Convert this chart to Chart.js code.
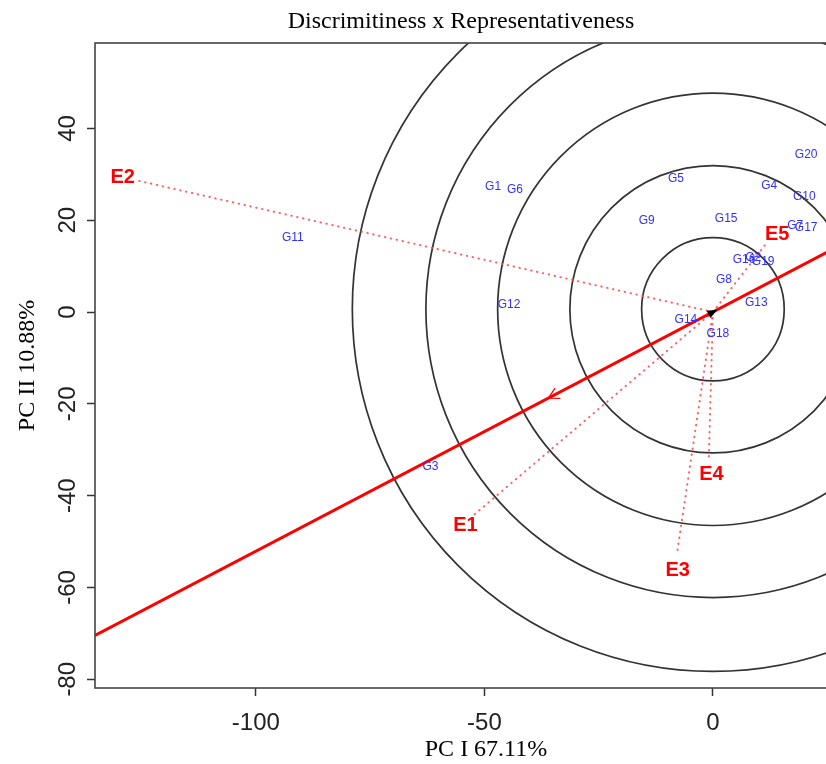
<!DOCTYPE html>
<html lang="en">
<head>
<meta charset="UTF-8">
<title>Discrimitiness x Representativeness</title>
<script src="https://cdn.jsdelivr.net/npm/chart.js"></script>
<style>
  html, body { margin: 0; padding: 0; overflow: hidden; background: #fff; }
</style>
</head>
<body>
<canvas id="myChart" width="880" height="764"></canvas>
<script>
// genotype scores (PC1, PC2)
const genotypes = ['G1', 'G2', 'G3', 'G4', 'G5', 'G6', 'G7', 'G8', 'G9', 'G10',
                   'G11', 'G12', 'G13', 'G14', 'G15', 'G16', 'G17', 'G18', 'G19', 'G20'];
const genoX = [-48.1, 8.8, -61.8, 12.3, -8.1, -43.3, 18.0, 2.4, -14.5, 20.0,
               -91.9, -44.6, 9.5, -5.9, 2.9, 6.8, 20.4, 1.1, 11.0, 20.4];
const genoY = [27.2, 11.8, -33.8, 27.5, 29.0, 26.6, 18.7, 7.0, 19.8, 25.1,
               16.1, 1.5, 2.0, -1.7, 20.3, 11.3, 18.3, -4.8, 10.9, 34.2];

// environment vectors
const environments = ['E1', 'E2', 'E3', 'E4', 'E5'];
const envX = [-52.3, -126.6, -7.9, -0.9, 11.4];
const envY = [-44.2, 28.8, -52.9, -31.8, 14.6];

// average environment axis and concentric circles
const aecSlope = 0.521;
const aecArrowX = -36;
const circleCenter = [0, 0.6];
const circleRadii = [15.6, 31.3, 47.1, 62.8, 78.9];

const xTicks = [-100, -50, 0];
const yTicks = [-80, -60, -40, -20, 0, 20, 40];

const sans = '"Liberation Sans", Arial, sans-serif';
const serif = '"Liberation Serif", "Times New Roman", serif';

const envDatasets = environments.map((e, i) => ({
    type: 'line',
    label: e,
    data: [{ x: 0, y: 0 }, { x: envX[i], y: envY[i] }],
    borderColor: 'rgba(255, 80, 80, 0.9)',
    borderWidth: 2,
    borderDash: [0.5, 5.5],
    borderCapStyle: 'round',
    pointRadius: 0,
    fill: false
}));

const genoDataset = {
    type: 'scatter',
    label: 'genotypes',
    data: genotypes.map((g, i) => ({ x: genoX[i], y: genoY[i] })),
    pointRadius: 0
};

function dirOf(x, y, p0, xs, ys) {
    const dx = xs.getPixelForValue(x) - p0.x;
    const dy = ys.getPixelForValue(y) - p0.y;
    const len = Math.hypot(dx, dy);
    return { x: dx / len, y: dy / len };
}

const biplotPlugin = {
    id: 'biplot',
    beforeDatasetsDraw(chart) {
        const { ctx, chartArea: a, scales: { x, y } } = chart;
        ctx.save();
        ctx.beginPath();
        ctx.rect(a.left, a.top, a.right - a.left, a.bottom - a.top);
        ctx.clip();
        // circles
        const cx = x.getPixelForValue(circleCenter[0]);
        const cy = y.getPixelForValue(circleCenter[1]);
        ctx.strokeStyle = '#333';
        ctx.lineWidth = 1.7;
        circleRadii.forEach(r => {
            const rx = Math.abs(x.getPixelForValue(circleCenter[0] + r) - cx);
            const ry = Math.abs(y.getPixelForValue(circleCenter[1] + r) - cy);
            ctx.beginPath();
            ctx.ellipse(cx, cy, rx, ry, 0, 0, Math.PI * 2);
            ctx.stroke();
        });
        ctx.restore();
    },
    afterDatasetsDraw(chart) {
        const { ctx, chartArea: a, scales: { x, y } } = chart;
        ctx.save();
        ctx.beginPath();
        ctx.rect(a.left, a.top, a.right - a.left, a.bottom - a.top);
        ctx.clip();
        // average environment axis
        ctx.strokeStyle = '#ff0000';
        ctx.lineWidth = 3;
        ctx.beginPath();
        ctx.moveTo(x.getPixelForValue(x.min), y.getPixelForValue(aecSlope * x.min));
        ctx.lineTo(x.getPixelForValue(x.max), y.getPixelForValue(aecSlope * x.max));
        ctx.stroke();

        const p0 = { x: x.getPixelForValue(0), y: y.getPixelForValue(0) };
        const d = dirOf(10, 10 * aecSlope, p0, x, y);
        // black arrow head at origin
        const tip = { x: p0.x + d.x * 5, y: p0.y + d.y * 5 };
        const base = { x: tip.x - d.x * 10, y: tip.y - d.y * 10 };
        ctx.fillStyle = '#000';
        ctx.beginPath();
        ctx.moveTo(tip.x, tip.y);
        ctx.lineTo(base.x - d.y * 4, base.y + d.x * 4);
        ctx.lineTo(base.x + d.y * 4, base.y - d.x * 4);
        ctx.closePath();
        ctx.fill();
        // red open chevron on the axis
        const ap = { x: x.getPixelForValue(aecArrowX), y: y.getPixelForValue(aecSlope * aecArrowX) };
        const ang = 0.5;
        ctx.strokeStyle = '#ff0000';
        ctx.lineWidth = 1.3;
        ctx.beginPath();
        [ang, -ang].forEach(t => {
            const ux = d.x * Math.cos(t) - d.y * Math.sin(t);
            const uy = d.x * Math.sin(t) + d.y * Math.cos(t);
            ctx.moveTo(ap.x, ap.y);
            ctx.lineTo(ap.x + ux * 12, ap.y + uy * 12);
        });
        ctx.stroke();
        ctx.restore();
    },
    afterDraw(chart) {
        const { ctx, chartArea: a, scales: { x, y } } = chart;
        ctx.save();
        // plot box
        ctx.strokeStyle = '#444';
        ctx.lineWidth = 1.6;
        ctx.strokeRect(a.left, a.top, a.right - a.left, a.bottom - a.top);

        // y tick labels, parallel to the axis
        ctx.fillStyle = '#222';
        ctx.font = '24px ' + sans;
        ctx.textAlign = 'center';
        ctx.textBaseline = 'middle';
        yTicks.forEach(v => {
            ctx.save();
            ctx.translate(68, y.getPixelForValue(v));
            ctx.rotate(-Math.PI / 2);
            ctx.fillText(String(v), 0, 0);
            ctx.restore();
        });

        // main title
        ctx.fillStyle = '#000';
        ctx.font = '24px ' + serif;
        ctx.fillText('Discrimitiness x Representativeness', 461, 22);

        // genotype labels
        ctx.fillStyle = '#3030ff';
        ctx.font = '12px ' + sans;
        chart.getDatasetMeta(environments.length).data.forEach((pt, i) => {
            ctx.fillText(genotypes[i], pt.x, pt.y);
        });

        // environment labels
        const p0 = { x: x.getPixelForValue(0), y: y.getPixelForValue(0) };
        ctx.fillStyle = '#ff0000';
        ctx.font = 'bold 20px ' + sans;
        environments.forEach((e, i) => {
            const ex = x.getPixelForValue(envX[i]);
            const ey = y.getPixelForValue(envY[i]);
            const d = dirOf(envX[i], envY[i], p0, x, y);
            ctx.fillText(e, ex + d.x * 15 + 3, ey + d.y * 15 + 1);
        });
        ctx.restore();
    }
};

const config = {
    data: { datasets: [...envDatasets, genoDataset] },
    options: {
        responsive: false,
        animation: false,
        layout: { padding: { top: 43, right: 3, bottom: 0, left: 0 } },
        plugins: {
            legend: { display: false },
            tooltip: { enabled: false },
            title: { display: false }
        },
        scales: {
            x: {
                type: 'linear',
                min: -135.2,
                max: 35.9,
                afterBuildTicks: s => { s.ticks = xTicks.map(v => ({ value: v })); },
                afterFit: s => { s.height = 76; },
                grid: { drawOnChartArea: false, tickLength: 8, tickColor: '#333', tickWidth: 1.5 },
                border: { display: false },
                ticks: { font: { family: sans, size: 24 }, color: '#222', padding: 13, maxRotation: 0, autoSkip: false },
                title: { display: true, text: 'PC I 67.11%', color: '#000', font: { family: serif, size: 24 }, padding: { top: 0, bottom: 0 } }
            },
            y: {
                type: 'linear',
                min: -81.9,
                max: 58.6,
                afterBuildTicks: s => { s.ticks = yTicks.map(v => ({ value: v })); },
                afterFit: s => { s.width = 95; },
                grid: { drawOnChartArea: false, tickLength: 8, tickColor: '#333', tickWidth: 1.5 },
                border: { display: false },
                ticks: { display: false },
                title: { display: true, text: 'PC II 10.88%', color: '#000', font: { family: serif, size: 24 }, padding: { top: 13, bottom: 0 } }
            }
        }
    },
    plugins: [biplotPlugin]
};

const myChart = new Chart(document.getElementById('myChart'), config);
</script>
</body>
</html>
